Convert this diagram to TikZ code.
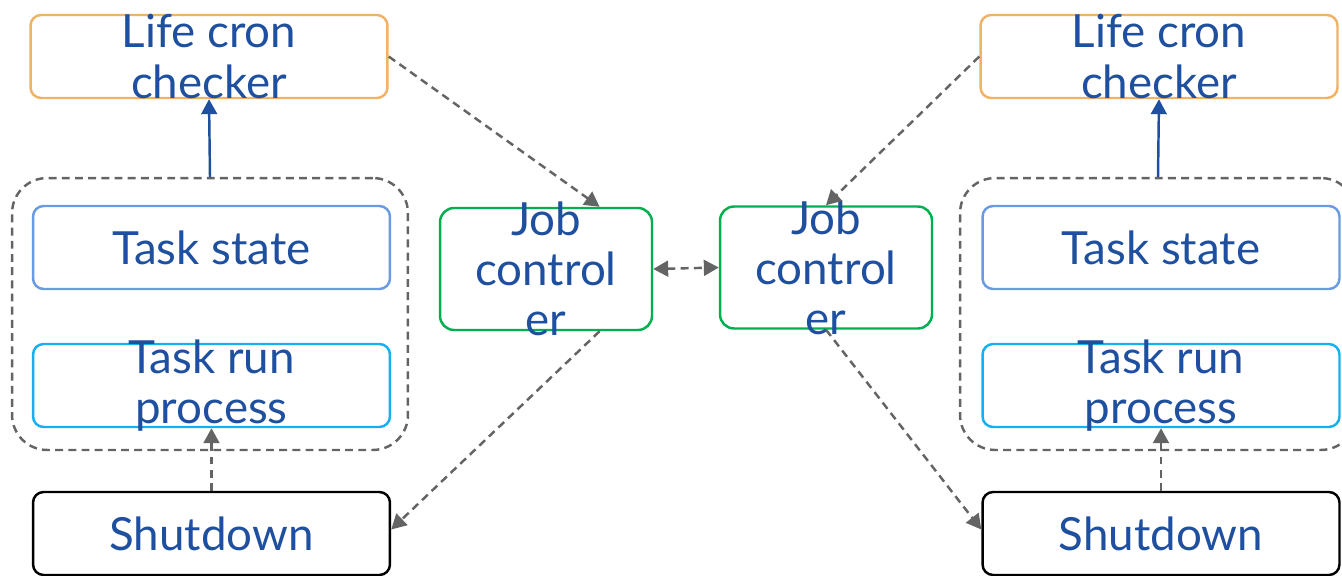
\documentclass[tikz,border=0pt]{standalone}
\usepackage{fontspec}
\setmainfont{Lato}
\usepackage{xcolor}
\usetikzlibrary{arrows.meta,positioning,calc}

\definecolor{txtblue}{RGB}{31,80,160}
\definecolor{cronorange}{RGB}{240,178,100}
\definecolor{stateblue}{RGB}{106,154,224}
\definecolor{runcyan}{RGB}{20,176,240}
\definecolor{jobgreen}{RGB}{0,176,80}
\definecolor{linkgray}{RGB}{100,100,100}

\begin{document}
\begin{tikzpicture}[
    x=0.02cm, y=-0.02cm,
    box/.style={rectangle, rounded corners=6pt, draw, line width=1.4pt, minimum width=7.14cm, minimum height=1.66cm, inner sep=0pt},
    jobbox/.style={box, draw=jobgreen, minimum width=4.24cm, minimum height=2.44cm, rounded corners=8pt},
    group/.style={rectangle, rounded corners=20pt, draw=linkgray, dash pattern=on 4.5pt off 3pt, line width=1.4pt, minimum width=7.92cm, minimum height=5.44cm},
    every label/.style={font=\fontsize{26}{28.5}\selectfont, text=txtblue, align=center, inner sep=0pt},
    tip/.style={Triangle[length=8.5pt,width=9pt]},
    link/.style={-{Triangle[length=8.5pt,width=9pt]}, linkgray, line width=1.4pt, dash pattern=on 4.5pt off 3pt},
]
\useasboundingbox (0,0) rectangle (1342,575);

% Left worker
\node[box, draw=cronorange, label=center:{Life cron\\checker}] (checkl) at (209,56.5) {};
\node[group] (groupl) at (210,314) {};
\node[box, draw=stateblue, label=center:{Task state}] (statel) at (211.5,247.5) {};
\node[box, draw=runcyan, label=center:{Task run\\process}] (runl) at (211.5,385.5) {};
\node[box, draw=black, label=center:{Shutdown}] (shutl) at (211.5,533.5) {};

% Job controllers in the middle
\node[jobbox, label=center:{Job\\control\\er}] (jobl) at (546,269) {};
\node[jobbox, label=center:{Job\\control\\er}] (jobr) at (826,267.5) {};

% Right worker
\node[box, draw=cronorange, label=center:{Life cron\\checker}] (checkr) at (1159,56.5) {};
\node[group] (groupr) at (1158,314) {};
\node[box, draw=stateblue, label=center:{Task state}] (stater) at (1161,247.5) {};
\node[box, draw=runcyan, label=center:{Task run\\process}] (runr) at (1161,385.5) {};
\node[box, draw=black, label=center:{Shutdown}] (shutr) at (1161,533.5) {};

% Arrows
\draw[-{Triangle[length=8.5pt,width=9pt]}, txtblue, line width=1.4pt] (groupl.north) -- (checkl.south);
\draw[-{Triangle[length=8.5pt,width=9pt]}, txtblue, line width=1.4pt] (groupr.north) -- (checkr.south);
\draw[link] (shutl.north) -- (runl.south);
\draw[link] (shutr.north) -- (runr.south);
\draw[link] (checkl.east) -- ($(jobl.north)!0.5!(jobl.north east)$);
\draw[link] ($(jobl.south)!0.5!(jobl.south east)$) -- ($(shutl.east)+(0,-4)$);
\draw[link] (checkr.west) -- (jobr.north);
\draw[link] (jobr.south) -- ($(shutr.west)+(0,-4)$);
\draw[link, {Triangle[length=8.5pt,width=9pt]}-{Triangle[length=8.5pt,width=9pt]}] (jobl.east) -- (jobr.west);

\end{tikzpicture}
\end{document}
